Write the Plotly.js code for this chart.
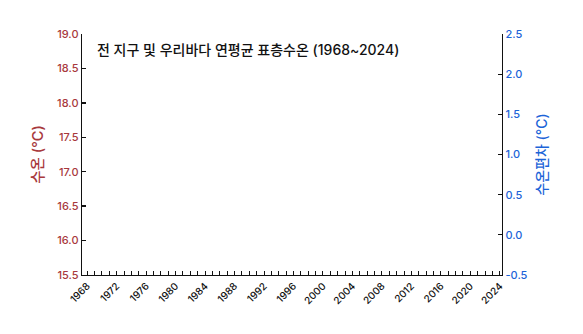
<!DOCTYPE html>
<html>
<head>
<meta charset="utf-8">
<script src="https://cdn.plot.ly/plotly-3.0.1.min.js"></script>
<style>html,body{margin:0;padding:0;background:#fff;}#chart{width:583px;height:334px;}</style>
</head>
<body>
<div id="chart"></div>
<script>
// Data (no data marks are visible in the reference chart)
const years = [];
for (let y = 1968; y <= 2024; y++) years.push(y);
const tickYears = [1968,1972,1976,1980,1984,1988,1992,1996,2000,2004,2008,2012,2016,2020,2024];
const tickLabels = tickYears.map(String);
const globalSST = years.map(() => null);   // 수온 (°C) - not drawn in reference
const koreaAnomaly = years.map(() => null); // 수온편차 (°C) - not drawn in reference
const leftTicks = [15.5,16.0,16.5,17.0,17.5,18.0,18.5,19.0];
const rightTicks = [-0.5,0.0,0.5,1.0,1.5,2.0,2.5];

const FONT = 'Inter, "Noto Sans CJK KR", sans-serif';
const RED = '#a8393d';
const BLUE = '#1c64d8';

const traces = [
  {x: years, y: globalSST, type: 'scatter', mode: 'lines', yaxis: 'y', showlegend: false, line: {color: RED}},
  {x: years, y: koreaAnomaly, type: 'scatter', mode: 'lines', yaxis: 'y2', showlegend: false, line: {color: BLUE}}
];

const layout = {
  width: 583, height: 334,
  margin: {l: 82, r: 81, t: 34, b: 59},
  paper_bgcolor: '#fff', plot_bgcolor: '#fff',
  font: {family: FONT},
  showlegend: false,
  xaxis: {
    range: [1967.3, 2024.3],
    tickmode: 'array', tickvals: tickYears, ticktext: tickLabels,
    tickangle: -45,
    tickfont: {size: 10, color: '#111', family: FONT, weight: 500},
    ticks: 'inside', ticklen: 4, tickwidth: 1, tickcolor: '#111',
    minor: {dtick: 1, tick0: 1968, ticks: 'inside', ticklen: 4, tickwidth: 1, tickcolor: '#111', showgrid: false},
    showline: true, linecolor: '#111', linewidth: 1.3,
    showgrid: false, zeroline: false, fixedrange: true
  },
  yaxis: {
    range: [15.5, 19.0],
    tickmode: 'array', tickvals: leftTicks, ticktext: leftTicks.map(v => v.toFixed(1)),
    tickfont: {size: 11, color: RED, family: FONT, weight: 500},
    ticks: 'inside', ticklen: 4, tickwidth: 1.3, tickcolor: '#111',
    showline: true, linecolor: '#111', linewidth: 1.3,
    showgrid: false, zeroline: false,
    title: {text: '수온 (°C)', font: {size: 14.5, color: RED, family: FONT, weight: 500}, standoff: 10},
    automargin: false
  },
  yaxis2: {
    range: [-0.5, 2.5], overlaying: 'y', side: 'right',
    tickmode: 'array', tickvals: rightTicks, ticktext: rightTicks.map(v => v.toFixed(1)),
    tickfont: {size: 11, color: BLUE, family: FONT, weight: 500},
    ticks: 'inside', ticklen: 4, tickwidth: 1.3, tickcolor: '#111',
    showline: true, linecolor: '#111', linewidth: 1.3,
    showgrid: false, zeroline: false,
    title: {text: '수온편차 (°C)', font: {size: 14, color: BLUE, family: FONT, weight: 500}, standoff: 10},
    automargin: false
  },
  annotations: [{
    xref: 'paper', yref: 'paper', x: 0.031, y: 0.934,
    xanchor: 'left', yanchor: 'middle', showarrow: false,
    text: '전 지구 및 우리바다 연평균 표층수온 (1968~2024)',
    font: {size: 14, color: '#111', family: FONT, weight: 500}
  }]
};

Plotly.newPlot('chart', traces, layout, {displayModeBar: false, staticPlot: true});
</script>
</body>
</html>
